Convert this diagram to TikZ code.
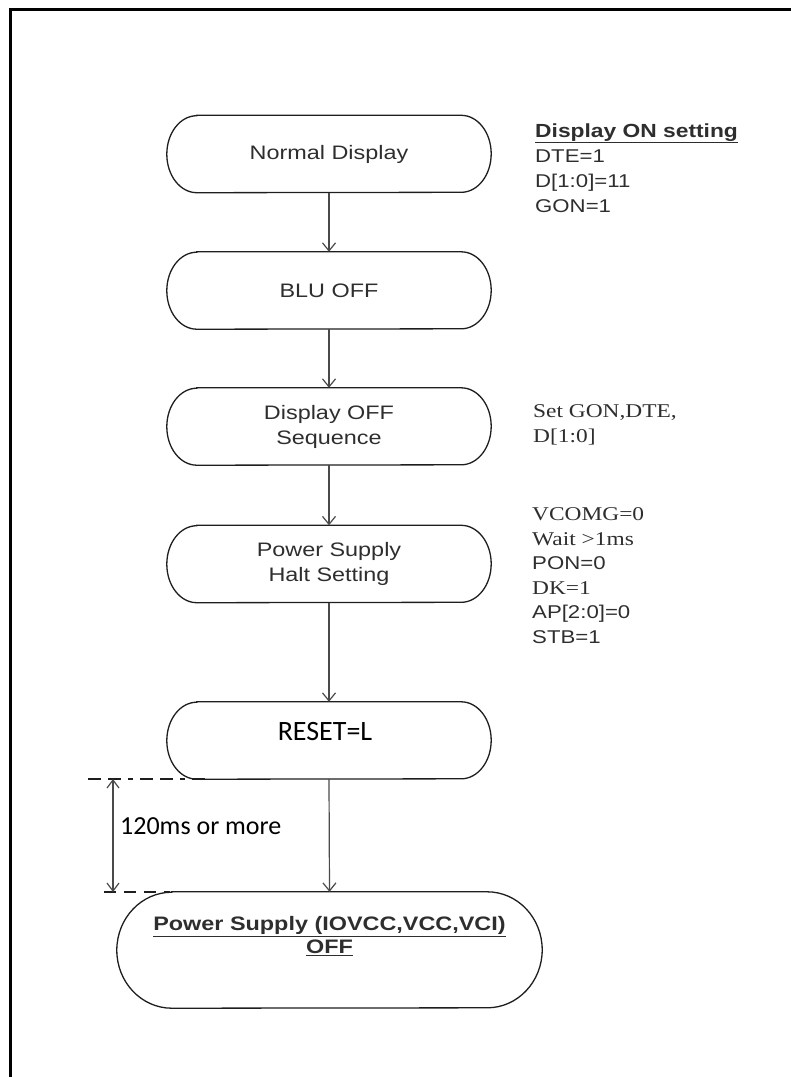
\documentclass[tikz,border=0pt]{standalone}
\usepackage{fontspec}
\usepackage{graphicx}
\setmainfont{Liberation Sans}
\newfontfamily\timesf{Liberation Serif}
\newfontfamily\calf{Carlito}
\usetikzlibrary{arrows.meta}
\newcommand\hx[1]{\scalebox{1.2}[1]{#1}}
\definecolor{txt}{HTML}{2E2E2E}
\definecolor{ln}{HTML}{1E1E1E}
\definecolor{arr}{HTML}{4A4A4A}
\newcommand\stadium[3]{%
  \draw[outline] ([xshift=#2 pt]#1.north west) -- ([xshift=-#2 pt]#1.north east)
    arc[start angle=90,end angle=-90,x radius=#2,y radius=#3]
    -- ([xshift=#2 pt]#1.south west)
    arc[start angle=270,end angle=90,x radius=#2,y radius=#3] -- cycle;}
\begin{document}
\begin{tikzpicture}[x=1pt,y=1pt,
  box/.style={rectangle, minimum width=324pt, minimum height=77pt, inner sep=0pt,
    font=\fontsize{19.5}{25}\selectfont, text=txt, align=center},
  outline/.style={draw=ln, line width=1.3pt},
  flow/.style={draw=arr, line width=1.2pt, -{Straight Barb[length=8pt,width=13pt]}},
  note/.style={anchor=base west, inner sep=0pt, text=txt},
  sans/.style={font=\fontsize{18.5}{22}\selectfont},
  serif/.style={font=\fontsize{19.5}{22}\timesf},
  frame/.style={draw=black, line width=3pt}]
\useasboundingbox (0,0) rectangle (791,-1077);
% frame
\draw[frame] (10,-1077) -- (10,-9) -- (791,-9);
% boxes
\node[box] (b1) at (329,-154) {\hx{Normal Display}};
\node[box] (b2) at (329,-290.5) {\hx{BLU OFF}};
\node[box] (b3) at (329,-426.5) {\hx{Display OFF}\\\hx{Sequence}};
\node[box] (b4) at (329,-564) {\hx{Power Supply}\\\hx{Halt Setting}};
\node[box] (b5) at (329,-740.5) {};
\node[inner sep=0pt, font=\fontsize{28}{30}\calf, text=black] (t5) at (325,-732) {RESET=L};
\node[box, minimum width=425pt, minimum height=116pt] (b6) at (329.5,-950) {};
\node[inner sep=0pt, align=center, text=txt, font=\fontsize{19.5}{23}\selectfont\bfseries] (t6) at (329.5,-936)
  {\hx{\underline{Power Supply (IOVCC,VCC,VCI)}}\\\hx{\underline{OFF}}};
\stadium{b1}{30}{38.5}
\stadium{b2}{30}{38.5}
\stadium{b3}{30}{38.5}
\stadium{b4}{30}{38.5}
\stadium{b5}{30}{38.5}
\stadium{b6}{55}{58}
% connectors
\draw[flow] (b1.south) -- (b2.north);
\draw[flow] (b2.south) -- (b3.north);
\draw[flow] (b3.south) -- (b4.north);
\draw[flow] (b4.south) -- (b5.north);
\draw[flow] (b5.south) -- (b6.north);
% timing marks
\coordinate (dA) at (88,-779);
\coordinate (dB) at (205,-779);
\coordinate (dC) at (104,-892);
\coordinate (dD) at (170,-892);
\coordinate (vA) at (113,-779);
\coordinate (vB) at (113,-892);
\draw[draw=ln, line width=1.2pt, dash pattern=on 13pt off 7pt on 13pt off 7pt on 5pt off 7pt] (dA) -- (dB);
\draw[draw=ln, line width=1.2pt, dash pattern=on 12pt off 8pt] (dC) -- (dD);
\draw[draw=arr, line width=1.2pt, {Straight Barb[length=8pt,width=12pt]}-{Straight Barb[length=8pt,width=12pt]}] (vA) -- (vB);
\node[anchor=west, inner sep=0pt, font=\fontsize{26}{28}\calf, text=black] (dl) at (120,-826) {120ms or more};
% notes
\node[note, font=\fontsize{19}{22}\selectfont\bfseries] (n1) at (535,-137) {\hx{\underline{Display ON setting}}};
\node[note, sans] (n2) at (535,-162) {\hx{DTE=1}};
\node[note, sans] (n3) at (535,-187) {\hx{D[1:0]=11}};
\node[note, sans] (n4) at (535,-212) {\hx{GON=1}};
\node[note, serif] (m1) at (533,-417) {\hx{Set GON,DTE,}};
\node[note, serif] (m2) at (533,-442) {\hx{D[1:0]}};
\node[note, serif] (p1) at (532,-520) {\hx{VCOMG=0}};
\node[note, serif] (p2) at (532,-545) {\hx{Wait >1ms}};
\node[note, sans] (p3) at (532,-569) {\hx{PON=0}};
\node[note, serif] (p4) at (532,-594) {\hx{DK=1}};
\node[note, sans] (p5) at (532,-618) {\hx{AP[2:0]=0}};
\node[note, sans] (p6) at (532,-643) {\hx{STB=1}};
\end{tikzpicture}
\end{document}
